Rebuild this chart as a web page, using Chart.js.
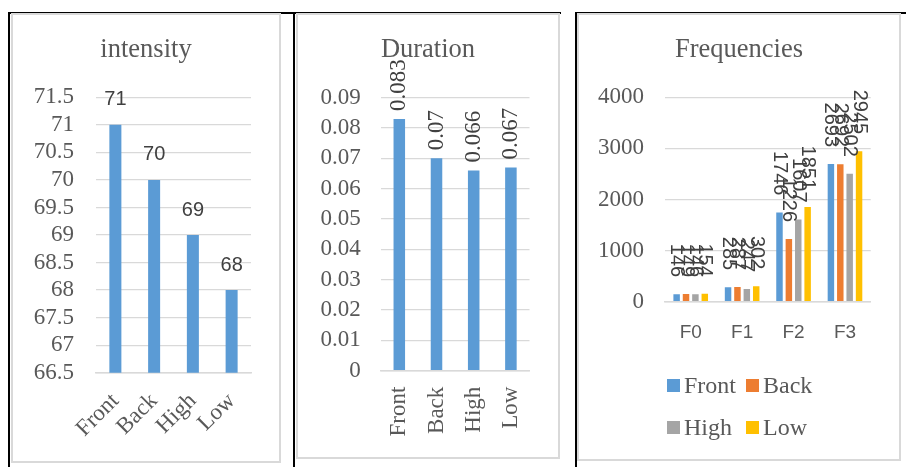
<!DOCTYPE html>
<html>
<head>
<meta charset="utf-8">
<script src="https://cdn.jsdelivr.net/npm/chart.js@4.4.1/dist/chart.umd.min.js"></script>
<style>
  body { margin: 0; background: #fff; width: 906px; height: 467px; position: relative; overflow: hidden; }
  .line { position: absolute; background: #000; }
  .box { position: absolute; box-sizing: border-box; border: 2px solid #d9d9d9; background: #fff; }
  .box canvas { position: absolute; left: 0; top: 0; }
  .legend-item { position: absolute; font: 24px "Liberation Serif", serif; color: #595959; line-height: 24px; white-space: nowrap; }
  .legend-item span { display: inline-block; width: 13px; height: 13px; margin-right: 4px; vertical-align: 1px; }
</style>
</head>
<body>
<div class="line" style="left:8px; top:12px; width:553px; height:2px;"></div>
<div class="line" style="left:576px; top:12px; width:330px; height:2px;"></div>
<div class="line" style="left:8px; top:12px; width:2px; height:455px;"></div>
<div class="line" style="left:293px; top:12px; width:2px; height:455px;"></div>
<div class="line" style="left:575px; top:12px; width:2px; height:455px;"></div>

<div class="box" style="left:11px; top:13px; width:270px; height:450px;"><canvas id="intensityChart"></canvas></div>
<div class="box" style="left:296px; top:13px; width:264px; height:446px;"><canvas id="durationChart"></canvas></div>
<div class="box" style="left:577px; top:13px; width:324px; height:448px;"><canvas id="freqChart"></canvas></div>
<div id="freqLegend"></div>

<script>
// data
const conditions = ['Front', 'Back', 'High', 'Low'];
const intensityValues = [71, 70, 69, 68];
const durationValues = [0.083, 0.07, 0.066, 0.067];

const formants = ['F0', 'F1', 'F2', 'F3'];
const freqFront = [146, 285, 1746, 2693];
const freqBack = [149, 287, 1226, 2692];
const freqHigh = [146, 247, 1607, 2502];
const freqLow = [154, 302, 1851, 2945];

const seriesNames = ['Front', 'Back', 'High', 'Low'];
const seriesColors = ['#5b9bd5', '#ed7d31', '#a5a5a5', '#ffc000'];

const serif = '"Liberation Serif", serif';
const sans = '"Liberation Sans", sans-serif';
const gridColor = '#d9d9d9';
const textColor = '#595959';

Chart.defaults.animation = false;
Chart.defaults.font.family = serif;
Chart.defaults.color = textColor;

const trimNum = (v) => String(Math.round(v * 1000) / 1000);

// value labels above the bars (horizontal, or rotated up/down)
const barLabels = {
    id: 'barLabels',
    afterDatasetsDraw(chart, args, opts) {
        const ctx = chart.ctx;
        ctx.save();
        ctx.font = opts.font;
        ctx.fillStyle = opts.color;
        ctx.textBaseline = 'middle';
        chart.data.datasets.forEach((ds, i) => {
            chart.getDatasetMeta(i).data.forEach((bar, j) => {
                const text = String(ds.data[j]);
                ctx.save();
                ctx.translate(bar.x, bar.y - opts.gap);
                if (opts.dir === 'up') {
                    ctx.rotate(-Math.PI / 2);
                    ctx.textAlign = 'left';
                } else if (opts.dir === 'down') {
                    ctx.rotate(Math.PI / 2);
                    ctx.textAlign = 'right';
                } else {
                    ctx.textAlign = 'center';
                }
                ctx.fillText(text, 0, 0);
                ctx.restore();
            });
        });
        ctx.restore();
    }
};

function yAxis(min, max, step, width, pad) {
    return {
        min: min, max: max,
        ticks: {
            stepSize: step, padding: pad, autoSkip: false,
            font: { family: serif, size: 23 }, color: textColor, callback: trimNum
        },
        grid: { color: gridColor, lineWidth: 1.3, drawTicks: false },
        border: { display: false },
        afterFit: (s) => { s.width = width; }
    };
}

// empty axis on the right, only keeps space so the title stays centred on the box
function spacerAxis(width) {
    return {
        position: 'right',
        ticks: { display: false },
        grid: { display: false, drawTicks: false },
        border: { display: false },
        afterFit: (s) => { s.width = width; }
    };
}

function xAxis(height, ticks) {
    ticks.autoSkip = false;
    ticks.color = textColor;
    return {
        ticks: ticks,
        grid: { display: false, drawTicks: false },
        border: { display: true, color: gridColor, width: 1.5 },
        afterFit: (s) => { s.height = height; }
    };
}

function titleOpts(text, bottom) {
    return {
        display: true, text: text, color: textColor,
        font: { family: serif, size: 26.5, weight: 'normal' },
        padding: { top: 19.1, bottom: bottom }
    };
}

function sizeCanvas(id, w, h) {
    const c = document.getElementById(id);
    c.style.width = w + 'px';
    c.style.height = h + 'px';
    return c.getContext('2d');
}

// Intensity
new Chart(sizeCanvas('intensityChart', 266, 446), {
    type: 'bar',
    data: {
        labels: conditions,
        datasets: [{ data: intensityValues, backgroundColor: seriesColors[0], categoryPercentage: 1, barPercentage: 0.31 }]
    },
    options: {
        responsive: false,
        plugins: {
            legend: { display: false }, tooltip: { enabled: false },
            title: titleOpts('intensity', 31.4),
            barLabels: { font: '20px ' + sans, color: '#404040', gap: 25, dir: 'none' }
        },
        scales: {
            x: xAxis(88.3, { minRotation: 45, maxRotation: 45, padding: 15, font: { family: serif, size: 23 } }),
            y: yAxis(66.5, 71.5, 0.5, 83, 22),
            yr: spacerAxis(28)
        }
    },
    plugins: [barLabels]
});

// Duration
new Chart(sizeCanvas('durationChart', 260, 442), {
    type: 'bar',
    data: {
        labels: conditions,
        datasets: [{ data: durationValues, backgroundColor: seriesColors[0], categoryPercentage: 1, barPercentage: 0.31 }]
    },
    options: {
        responsive: false,
        plugins: {
            legend: { display: false }, tooltip: { enabled: false },
            title: titleOpts('Duration', 31.8),
            barLabels: { font: '23px ' + serif, color: '#404040', gap: 8, dir: 'up' }
        },
        scales: {
            x: xAxis(86.3, { minRotation: 90, maxRotation: 90, padding: 16, font: { family: serif, size: 23 } }),
            y: yAxis(0, 0.09, 0.01, 82.7, 20),
            yr: spacerAxis(28)
        }
    },
    plugins: [barLabels]
});

// Frequencies
const freqSeries = [freqFront, freqBack, freqHigh, freqLow];
new Chart(sizeCanvas('freqChart', 320, 444), {
    type: 'bar',
    data: {
        labels: formants,
        datasets: freqSeries.map((vals, i) => ({
            label: seriesNames[i], data: vals, backgroundColor: seriesColors[i],
            categoryPercentage: 0.73, barPercentage: 0.69
        }))
    },
    options: {
        responsive: false,
        plugins: {
            legend: { display: false }, tooltip: { enabled: false },
            title: titleOpts('Frequencies', 31.4),
            barLabels: { font: '20px ' + sans, color: '#404040', gap: 17, dir: 'down' }
        },
        scales: {
            x: xAxis(157.3, { padding: 20, font: { family: sans, size: 19 } }),
            y: yAxis(0, 4000, 1000, 86, 21),
            yr: spacerAxis(28.3)
        }
    },
    plugins: [barLabels]
});

// two-row legend under the frequency chart
const legendPos = [[667, 373], [746, 373], [667, 415], [746, 415]];
const legendBox = document.getElementById('freqLegend');
seriesNames.forEach((name, i) => {
    const item = document.createElement('div');
    item.className = 'legend-item';
    item.style.left = legendPos[i][0] + 'px';
    item.style.top = legendPos[i][1] + 'px';
    item.innerHTML = '<span style="background:' + seriesColors[i] + '"></span>' + name;
    legendBox.appendChild(item);
});
</script>
</body>
</html>
